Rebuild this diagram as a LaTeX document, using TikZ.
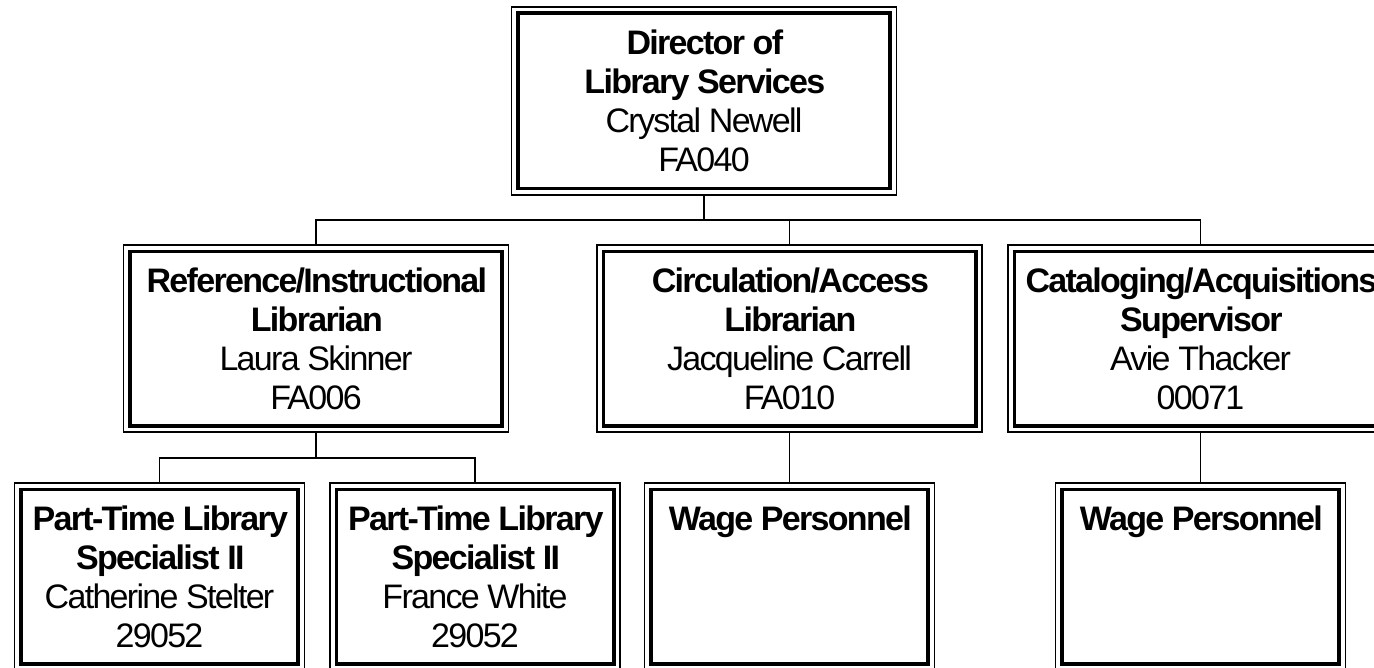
\documentclass[tikz,border=0pt]{standalone}
\usepackage{fontspec}
\setmainfont{Liberation Sans}[LetterSpace=-5]
\begin{document}
\begin{tikzpicture}[x=0.5pt,y=-0.5pt,
  box/.style={draw, line width=0.65pt, inner sep=0pt, align=center,
    font=\fontsize{17}{19.5}\selectfont,
    path picture={\draw[line width=1.9pt]
      ([shift={(3.2pt,3.2pt)}]path picture bounding box.south west) rectangle
      ([shift={(-3.2pt,-3.2pt)}]path picture bounding box.north east);}},
  bigbox/.style={box, minimum width=192.5pt, minimum height=93.5pt},
  smallbox/.style={box, minimum width=145pt, minimum height=93.5pt},
  link/.style={line width=0.6pt}]
\useasboundingbox (0,0) rectangle (1374,668);
\clip (0,0) rectangle (1374,668);
\coordinate (bar) at (0,220);
\coordinate (bartwo) at (0,458);
% boxes
\node[bigbox, minimum height=94pt] (top) at (704,101)
  {\textbf{Director of}\\\textbf{Library Services}\\Crystal Newell\\FA040};
\node[bigbox] (midL) at (316,338.5)
  {\textbf{Reference/Instructional}\\\textbf{Librarian}\\Laura Skinner\\FA006};
\node[bigbox] (midC) at (789.5,338.5)
  {\textbf{Circulation/Access}\\\textbf{Librarian}\\Jacqueline Carrell\\FA010};
\node[bigbox] (midR) at (1200.5,338.5)
  {\textbf{Cataloging/Acquisitions}\\\textbf{Supervisor}\\Avie Thacker\\00071};
\node[smallbox] (bA) at (159.5,576.5)
  {\textbf{Part-Time Library}\\\textbf{Specialist II}\\Catherine Stelter\\29052};
\node[smallbox] (bB) at (475,576.5)
  {\textbf{Part-Time Library}\\\textbf{Specialist II}\\France White\\29052};
\node[smallbox] (bC) at (789.5,576.5)
  {\textbf{Wage Personnel}\\\mbox{}\\\mbox{}\\\mbox{}};
\node[smallbox] (bD) at (1200.5,576.5)
  {\textbf{Wage Personnel}\\\mbox{}\\\mbox{}\\\mbox{}};
% connectors
\draw[link] (top.south) -- (top.south |- bar);
\draw[link] (midL.north) |- (midR.north |- bar) -- (midR.north);
\draw[link] (midC.north) -- (midC.north |- bar);
\draw[link] (midL.south) -- (midL.south |- bartwo);
\draw[link] (bA.north) |- (bB.north |- bartwo) -- (bB.north);
\draw[link] (midC.south) -- (bC.north);
\draw[link] (midR.south) -- (bD.north);
\end{tikzpicture}
\end{document}
